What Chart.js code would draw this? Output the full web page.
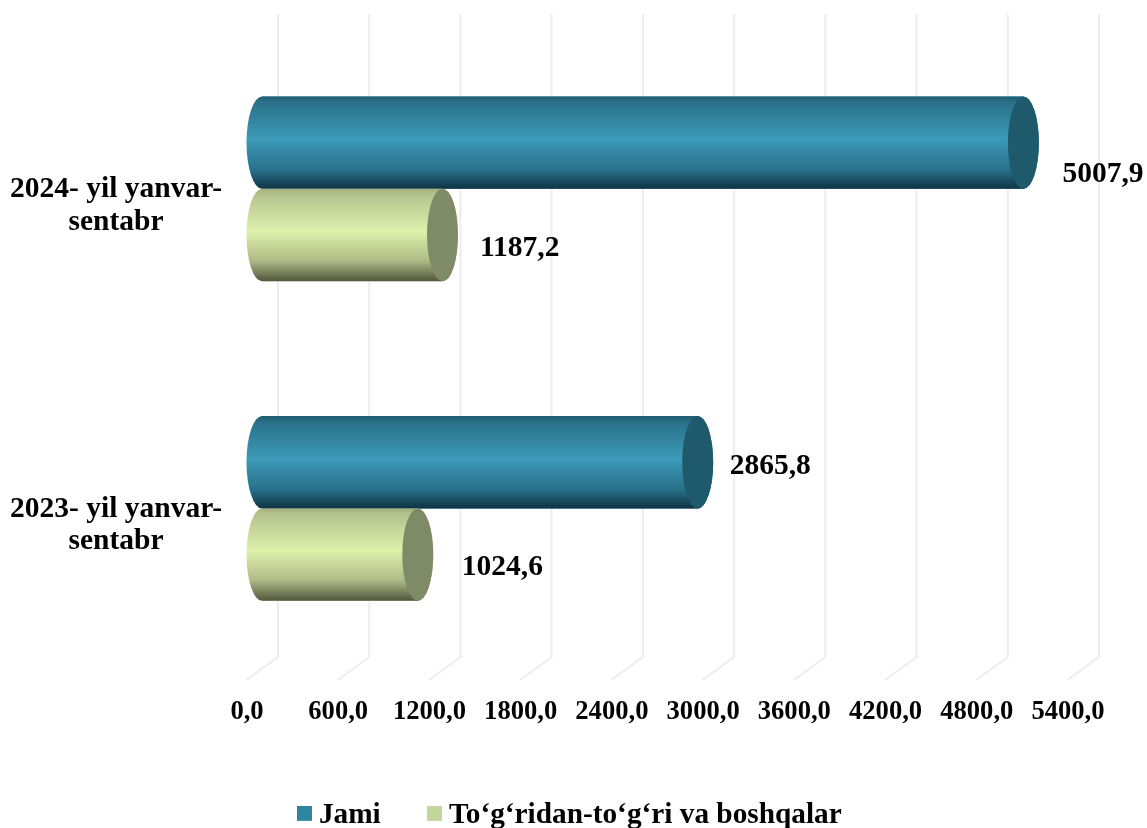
<!DOCTYPE html>
<html><head><meta charset="utf-8">
<style>html,body{margin:0;padding:0;background:#fff}canvas{display:block}</style>
<script src="https://cdn.jsdelivr.net/npm/chart.js@4"></script>
</head><body><canvas id="c" width="1147" height="828" style="width:1147px;height:828px"></canvas>
<script>
const categories = [["2024- yil yanvar-","sentabr"],["2023- yil yanvar-","sentabr"]];
const seriesNames = ["Jami","To‘g‘ridan-to‘g‘ri va boshqalar"];
const jamiValues = [5007.9, 2865.8];
const directValues = [1187.2, 1024.6];
const tickStep = 600;
const tickMax = 5400;

const FONT = '"Liberation Serif","Times New Roman",serif';
const looks = [
  {legend:'#2e86a1', cap:'#1f5a6c', stops:[[0,'#1f5c72'],[0.06,'#2a7088'],[0.46,'#3c9ab8'],[0.8,'#28708a'],[0.97,'#123c4c'],[1,'#103543']]},
  {legend:'#c3d69b', cap:'#7f8a66', stops:[[0,'#a3b07c'],[0.06,'#b4c28e'],[0.46,'#dff0ab'],[0.78,'#aeba85'],[0.97,'#5d6345'],[1,'#54593e']]}
];
// label nudges from bar end, [dx, dy] per dataset and category
const labelNudges = [[[39,31.5],[32,4]],[[37.5,13.5],[44,13]]];
const DEPTH_X = 15.5, DEPTH_WALL = 16, WALL_TOP = 14, WALL_BOTTOM = 657, FLOOR_Y = 680;

function swatch(color){
  const s = document.createElement('canvas'); s.width = 15; s.height = 19;
  const g = s.getContext('2d'); g.fillStyle = color; g.fillRect(0,0,15,15); return s;
}
const fmt = v => v.toFixed(1).replace('.',',');

const cylinders = {
  id:'cylinders',
  afterLayout(chart){ chart.legend.left = 63; },
  beforeDatasetsDraw(chart){
    const x = chart.scales.x, ctx = chart.ctx;
    ctx.save(); ctx.strokeStyle = '#ededed'; ctx.lineWidth = 2;
    x.ticks.forEach(t=>{
      const px = x.getPixelForValue(t.value);
      ctx.beginPath();
      ctx.moveTo(px+DEPTH_WALL, WALL_TOP);
      ctx.lineTo(px+DEPTH_WALL, WALL_BOTTOM);
      ctx.lineTo(px-DEPTH_X, FLOOR_Y);
      ctx.stroke();
    });
    ctx.restore();
  },
  afterDatasetsDraw(chart){
    const ctx = chart.ctx;
    chart.data.datasets.forEach((ds,di)=>{
      const look = looks[di];
      chart.getDatasetMeta(di).data.forEach((bar,i)=>{
        const p = bar.getProps(['x','y','base','height'],true);
        const top = p.y-p.height/2, bot = p.y+p.height/2, ry = p.height/2;
        const g = ctx.createLinearGradient(0,top,0,bot);
        look.stops.forEach(s=>g.addColorStop(s[0],s[1]));
        ctx.save();
        ctx.beginPath();
        ctx.ellipse(p.base,p.y,DEPTH_X,ry,0,Math.PI/2,Math.PI*1.5);
        ctx.lineTo(p.x,top);
        ctx.ellipse(p.x,p.y,DEPTH_X,ry,0,-Math.PI/2,Math.PI/2);
        ctx.closePath();
        ctx.fillStyle = g; ctx.fill();
        ctx.beginPath();
        ctx.ellipse(p.x,p.y,DEPTH_X,ry,0,0,Math.PI*2);
        ctx.fillStyle = look.cap; ctx.fill();
        ctx.restore();
        const n = labelNudges[di][i];
        ctx.save();
        ctx.font = 'bold 29.5px '+FONT; ctx.fillStyle = '#000';
        ctx.textAlign='left'; ctx.textBaseline='middle';
        ctx.fillText(fmt(ds.data[i]), p.x+n[0], p.y+n[1]);
        ctx.restore();
      });
    });
  }
};

new Chart(document.getElementById('c'),{
  type:'bar',
  data:{labels:categories,datasets:[
    {label:seriesNames[0],data:jamiValues,backgroundColor:looks[0].legend,barPercentage:1,categoryPercentage:0.578},
    {label:seriesNames[1],data:directValues,backgroundColor:looks[1].legend,barPercentage:1,categoryPercentage:0.578}
  ]},
  plugins:[cylinders],
  options:{
    indexAxis:'y',responsive:false,animation:false,devicePixelRatio:1,
    layout:{padding:{top:29,right:64,bottom:-12,left:0}},
    scales:{
      x:{min:0,max:tickMax,grid:{display:false},border:{display:false},
        afterFit(s){s.height=79;s.paddingLeft=0;s.paddingRight=0;},
        afterBuildTicks(s){const t=[];for(let v=0;v<=tickMax;v+=tickStep)t.push({value:v});s.ticks=t;},
        ticks:{callback:v=>fmt(v),autoSkip:false,maxRotation:0,minRotation:0,labelOffset:-15,padding:20,color:'#000',font:{family:FONT,size:26.6,weight:'bold'}}},
      y:{grid:{display:false,drawTicks:false},border:{display:false},
        afterFit(s){s.width=262;s.paddingTop=0;s.paddingBottom=0;},
        ticks:{crossAlign:'center',labelOffset:17,padding:40,color:'#000',font:{family:FONT,size:29.5,weight:'bold',lineHeight:1.09}}}
    },
    plugins:{
      tooltip:{enabled:false},
      legend:{position:'bottom',labels:{
        usePointStyle:true,pointStyleWidth:0.01,boxHeight:15,padding:53.5,color:'#000',font:{family:FONT,size:29.3,weight:'bold'},
        generateLabels(chart){return chart.data.datasets.map((d,i)=>({text:d.label,fillStyle:looks[i].legend,strokeStyle:looks[i].legend,lineWidth:0,pointStyle:swatch(looks[i].legend),datasetIndex:i,fontColor:'#000'}));}
      }}
    }
  }
});
</script></body></html>
